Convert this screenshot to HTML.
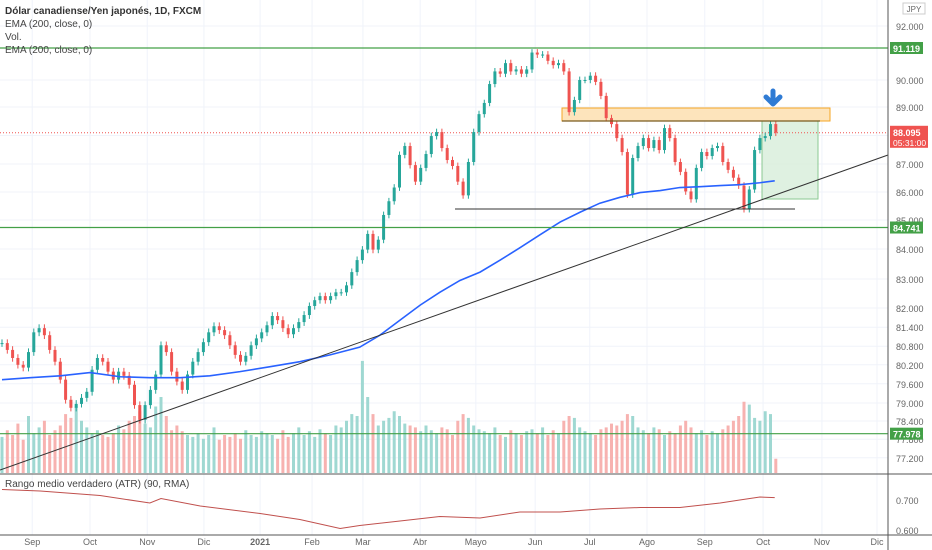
<!DOCTYPE html>
<html><head><meta charset="utf-8"><style>
body{margin:0;background:#fff;font-family:"Liberation Sans",sans-serif}
svg{display:block}
text{font-family:"Liberation Sans",sans-serif}
</style></head><body>
<svg id="c" width="932" height="550">
<g id="grid"></g><g id="vol"></g><g id="ov1"></g><g id="candles"></g><g id="ov2"></g><g id="axis"></g>
<text x="5" y="14" font-size="10" font-weight="bold" fill="#333">Dólar canadiense/Yen japonés, 1D, FXCM</text>
<text x="5" y="27" font-size="10" fill="#444">EMA (200, close, 0)</text>
<text x="5" y="40" font-size="10" fill="#444">Vol.</text>
<text x="5" y="53" font-size="10" fill="#444">EMA (200, close, 0)</text>
<text x="5" y="487" font-size="10" fill="#444">Rango medio verdadero (ATR) (90, RMA)</text>
</svg>
<script>
const closes=[80.90,80.68,80.42,80.20,80.11,80.61,81.24,81.37,81.15,80.68,80.30,79.73,79.10,78.84,78.97,79.16,79.35,80.04,80.42,80.30,79.98,79.73,79.98,79.85,79.57,78.93,78.44,78.93,79.41,79.89,80.83,80.61,79.98,79.67,79.41,79.89,80.30,80.61,80.93,81.24,81.43,81.31,81.15,80.83,80.52,80.30,80.49,80.83,81.05,81.24,81.46,81.75,81.62,81.37,81.18,81.37,81.56,81.78,82.07,82.27,82.41,82.27,82.41,82.54,82.54,82.78,83.23,83.63,83.98,84.52,83.98,84.32,85.18,85.67,86.16,87.32,87.63,86.96,86.37,86.86,87.35,87.98,88.12,87.56,87.14,86.93,86.37,85.88,87.07,88.12,88.75,89.15,89.85,90.30,90.22,90.59,90.30,90.37,90.22,90.37,90.96,90.89,90.89,90.67,90.52,90.59,90.30,88.82,89.26,90.00,90.00,90.15,89.93,89.41,88.61,88.40,87.91,87.42,85.91,87.21,87.63,87.91,87.56,87.84,87.49,88.26,87.91,87.07,86.72,86.02,85.74,86.86,87.42,87.28,87.56,87.63,87.07,86.79,86.51,86.23,85.39,86.09,87.49,87.91,87.98,88.40,88.10];
const volumes=[38,45,40,52,35,60,42,48,55,40,45,50,62,58,70,55,48,42,45,40,38,42,50,46,55,60,65,52,48,70,80,60,45,50,44,40,38,42,36,40,48,35,40,38,42,36,45,40,38,44,42,40,36,45,38,42,48,40,44,38,46,42,40,50,48,55,62,60,118,80,62,50,55,58,65,60,52,50,48,44,50,45,42,48,46,40,55,62,58,50,46,44,42,48,40,38,45,42,40,44,46,42,48,40,45,42,55,60,58,48,44,42,40,46,48,52,50,55,62,60,48,45,42,48,46,40,44,42,50,55,48,42,45,40,44,42,46,50,55,60,75,72,58,55,65,62,15];
const emaIdx=[0,5.3,11,16.6,22.3,27.9,33.6,39.2,44.9,50.6,56.2,61.9,67.5,71.3,75.1,78.9,82.6,86.4,90.2,94,97.7,101.5,105.3,109.1,112.8,116.6,120.4,124.2,127.9,131.7,135.5,139.2,143,145.8];
const emaVals=[79.73,79.79,79.85,79.95,79.82,79.79,79.79,79.85,79.98,80.14,80.30,80.52,80.77,81.15,81.62,82.10,82.54,82.95,83.23,83.63,84.04,84.49,84.93,85.28,85.60,85.81,85.98,86.05,86.16,86.19,86.23,86.26,86.33,86.40];
const atrIdx=[0,7.2,18.5,27.9,30,37.4,48.7,56.2,63.8,67.5,75.1,82.6,90.2,97.7,105.3,112.8,120.4,127.9,135.5,139.2,143,145.8];
const atrVals=[0.735,0.73,0.715,0.69,0.705,0.68,0.655,0.635,0.605,0.615,0.63,0.645,0.64,0.66,0.66,0.67,0.675,0.675,0.69,0.70,0.71,0.708];
const priceTicks=[92,91.119,90,89,88,87,86,85,84,83,82,81.4,80.8,80.2,79.6,79,78.4,77.8,77.2];
const monthLabels=["Sep","Oct","Nov","Dic","2021","Feb","Mar","Abr","Mayo","Jun","Jul","Ago","Sep","Oct","Nov","Dic"];
const monthIdx=[5.7,16.6,27.4,38.1,48.7,58.5,68.1,78.9,89.4,100.6,110.9,121.7,132.6,143.6,154.7,165.1];

const NS="http://www.w3.org/2000/svg";
const sp=[[93,0],[92,26],[91.119,48],[90,80],[89,107],[88,135.5],[87,164],[86,192],[85,220],[84,249],[83,279],[82,308],[81,340],[80,371],[79,403],[78,433],[77,464],[76,494]];
function y(p){for(let i=0;i<sp.length-1;i++){const a=sp[i],b=sp[i+1];if(p<=a[0]&&p>=b[0])return a[1]+(a[0]-p)/(a[0]-b[0])*(b[1]-a[1]);}return p>93?0:494;}
function x(i){return 2+i*5.3;}
function yv(v){return 473-v*0.95;}
function ya(v){return 500+(0.7-v)*300;}
function mk(par,tag,at){const e=document.createElementNS(NS,tag);for(const k in at)e.setAttribute(k,at[k]);document.getElementById(par).appendChild(e);return e;}
const W=888;
priceTicks.forEach(t=>{const l=mk('grid','line',{x1:0,x2:W,y1:y(t),y2:y(t),stroke:'#f0f3fa'});

});
monthIdx.forEach(m=>{const l=mk('grid','line',{x1:x(m),x2:x(m),y1:0,y2:535,stroke:'#f0f3fa'});

});
volumes.forEach((v,i)=>{const up=i==0||closes[i]>=closes[i-1];const r=mk('vol','rect',{x:x(i)-1.5,y:yv(v),width:3,height:473-yv(v),fill:up?'#9fd8d2':'#f7b2b0'});

});
const ob=mk('ov1','rect',{x:562,y:108,width:268,height:13,fill:'#fde4bc',stroke:'#f5a623','stroke-width':1});

const gb=mk('ov1','rect',{x:762,y:121,width:56,height:78,fill:'#d7eed9',stroke:'#8bc992','stroke-width':1,'fill-opacity':0.8});

const pl=mk('ov1','line',{x1:0,x2:W,y1:y(88.095),y2:y(88.095),stroke:'#ef5350','stroke-dasharray':'1 2','stroke-width':1});

closes.forEach((c,i)=>{const o=i==0?c:closes[i-1];const up=c>=o;const col=up?'#26a69a':'#ef5350';
const hi=Math.max(o,c)+0.12,lo=Math.min(o,c)-0.12;
const w=mk('candles','line',{x1:x(i),x2:x(i),y1:y(hi),y2:y(lo),stroke:col});


const t=Math.min(y(o),y(c));const b=mk('candles','rect',{x:x(i)-1.5,y:t,width:3,height:Math.max(1,Math.abs(y(o)-y(c))),fill:col});

});
const ep=mk('ov2','polyline',{points:emaIdx.map((k,i)=>x(k)+','+y(emaVals[i])).join(' '),fill:'none',stroke:'#2962ff','stroke-width':1.6});

const ap=mk('ov2','polyline',{points:atrIdx.map((k,i)=>x(k)+','+ya(atrVals[i])).join(' '),fill:'none',stroke:'#c0504d','stroke-width':1});

[[91.119,'level-91119'],[84.741,'level-84741'],[77.978,'level-77978']].forEach(([p,n])=>{const l=mk('ov2','line',{x1:0,x2:W,y1:y(p),y2:y(p),stroke:'#43a047','stroke-width':1.2});

});
const sl=mk('ov2','line',{x1:455,x2:795,y1:209,y2:209,stroke:'#333','stroke-width':1});

const bl=mk('ov2','line',{x1:562,x2:820,y1:121,y2:121,stroke:'#7a5a1e','stroke-width':1.2});

const tl=mk('ov2','line',{x1:0,x2:W,y1:470,y2:155,stroke:'#333','stroke-width':1});

const ar=mk('ov2','path',{d:'M773 91 L773 101 M766 97 L773 104 L780 97',stroke:'#2f7bd4','stroke-width':5,fill:'none','stroke-linecap':'round','stroke-linejoin':'round'});

mk('axis','rect',{x:W,y:0,width:44,height:550,fill:'#fff'});
mk('axis','rect',{x:0,y:535,width:932,height:15,fill:'#fff'});
const ax=mk('axis','line',{x1:W,x2:W,y1:0,y2:550,stroke:'#555'});

[[0,474,932,474],[0,535,932,535]].forEach(a=>{const l=mk('axis','line',{x1:a[0],y1:a[1],x2:a[2],y2:a[3],stroke:'#555'});

});
priceTicks.forEach(t=>{if(t==91.119)return;const e=mk('axis','text',{x:896,y:y(t)+4,'font-size':9,fill:'#666'});e.textContent=t.toFixed(3);

});
[0.7,0.6].forEach(t=>{const e=mk('axis','text',{x:896,y:ya(t)+4,'font-size':9,fill:'#666'});e.textContent=t.toFixed(3);

});
monthLabels.forEach((m,i)=>{const e=mk('axis','text',{x:x(monthIdx[i]),y:545,'font-size':9,fill:'#666','text-anchor':'middle','font-weight':m=='2021'?'bold':'normal'});e.textContent=m;

});
const jb=mk('axis','rect',{x:903,y:3,width:22,height:11,fill:'#fff',stroke:'#ccc'});
const jt=mk('axis','text',{x:914,y:12,'font-size':8,fill:'#666','text-anchor':'middle'});jt.textContent='JPY';

[[91.119,'#43a047','91.119'],[84.741,'#43a047','84.741'],[77.978,'#43a047','77.978']].forEach(([p,c,s])=>{mk('axis','rect',{x:890,y:y(p)-6,width:33,height:12,fill:c});
const e=mk('axis','text',{x:893,y:y(p)+4,'font-size':9,'font-weight':'bold',fill:'#fff'});e.textContent=s;

});
mk('axis','rect',{x:890,y:y(88.095)-7,width:38,height:22,fill:'#ef5350'});
const c1=mk('axis','text',{x:893,y:y(88.095)+3,'font-size':9,'font-weight':'bold',fill:'#fff'});c1.textContent='88.095';

const c2=mk('axis','text',{x:893,y:y(88.095)+13,'font-size':8.5,fill:'#fff'});c2.textContent='05:31:00';

</script>
</body></html>
